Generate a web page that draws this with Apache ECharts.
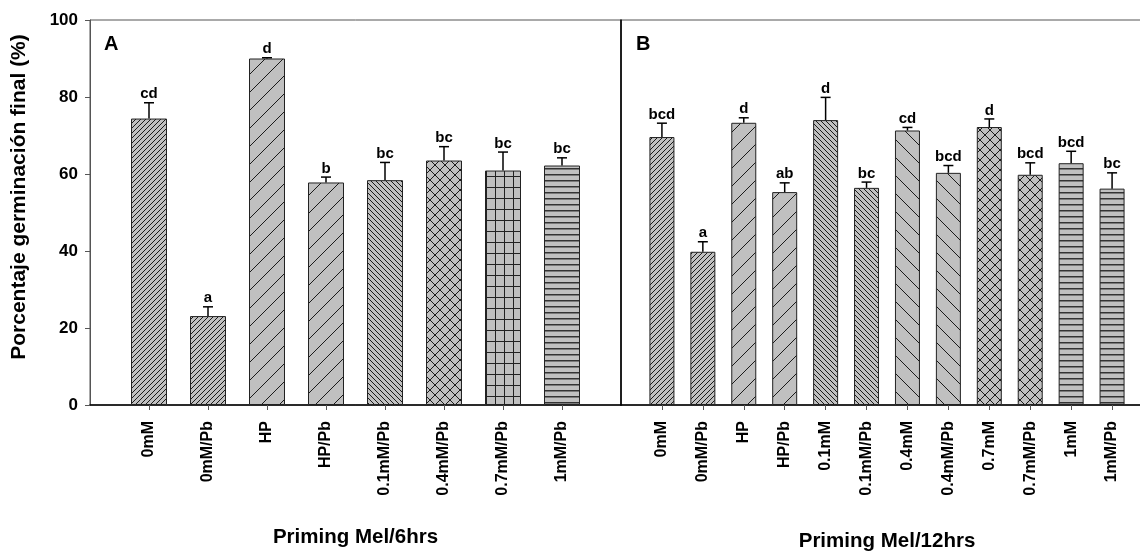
<!DOCTYPE html>
<html><head><meta charset="utf-8">
<script src="https://cdn.jsdelivr.net/npm/echarts@6/dist/echarts.min.js"></script>
<style>html,body{margin:0;padding:0;background:#fff}#c{width:1140px;height:552px}</style>
</head><body><div id="c"></div>
<script>
// ---- data ----
const categoriesA = ['0mM','0mM/Pb','HP','HP/Pb','0.1mM/Pb','0.4mM/Pb','0.7mM/Pb','1mM/Pb'];
const meansA = [74.4, 23.1, 90.0, 57.8, 58.4, 63.5, 60.9, 62.2];
const errorsA = [4.1, 2.4, 0.2, 1.4, 4.6, 3.6, 4.8, 2.0];
const lettersA = ['cd','a','d','b','bc','bc','bc','bc'];
const categoriesB = ['0mM','0mM/Pb','HP','HP/Pb','0.1mM','0.1mM/Pb','0.4mM','0.4mM/Pb','0.7mM','0.7mM/Pb','1mM','1mM/Pb'];
const meansB = [69.6, 39.8, 73.3, 55.3, 74.0, 56.4, 71.3, 60.3, 72.2, 59.8, 62.8, 56.2];
const errorsB = [3.6, 2.6, 1.3, 2.4, 5.9, 1.5, 0.8, 1.9, 2.1, 3.1, 3.1, 4.1];
const lettersB = ['bcd','a','d','ab','d','bc','cd','bcd','d','bcd','bcd','bc'];
const yTicks = [0, 20, 40, 60, 80, 100];
const panelTitles = ['A', 'B'];
const axisTitles = ['Priming Mel/6hrs', 'Priming Mel/12hrs'];
const yTitle = 'Porcentaje germinación final (%)';

// ---- styles ----
const patternsA = ['fwdDense','fwdDense','fwdSparse','fwdSparse','backDense','cross','grid','horiz'];
const patternsB = ['fwdDense','fwdDense','fwdSparse','fwdSparse','backDense','backDense','backSparse','backSparse','cross','cross','horiz','horiz'];
const FONT = '"Liberation Sans", Arial, sans-serif';

const patternCache = {};
function makePattern(kind) {
  if (patternCache[kind]) return patternCache[kind];
  const c = document.createElement('canvas');
  let w = 10, h = 10;
  if (kind === 'fwdDense' || kind === 'backDense') { w = h = 5; }
  else if (kind === 'fwdSparse' || kind === 'backSparse') { w = h = 18; }
  else if (kind === 'cross') { w = h = 10; }
  else if (kind === 'grid') { w = 9; h = 11; }
  else if (kind === 'horiz') { w = 8; h = 6; }
  c.width = w; c.height = h;
  const ctx = c.getContext('2d');
  ctx.fillStyle = '#c0c0c0';
  ctx.fillRect(0, 0, w, h);
  ctx.strokeStyle = '#1a1a1a';
  ctx.lineWidth = 1;
  const fwd = () => {
    ctx.beginPath();
    ctx.moveTo(-1, h + 1); ctx.lineTo(w + 1, -1);
    ctx.moveTo(-2, 2); ctx.lineTo(2, -2);
    ctx.moveTo(w - 2, h + 2); ctx.lineTo(w + 2, h - 2);
    ctx.stroke();
  };
  const back = () => {
    ctx.beginPath();
    ctx.moveTo(-1, -1); ctx.lineTo(w + 1, h + 1);
    ctx.moveTo(-2, h - 2); ctx.lineTo(2, h + 2);
    ctx.moveTo(w - 2, -2); ctx.lineTo(w + 2, 2);
    ctx.stroke();
  };
  if (kind.startsWith('fwd')) fwd();
  else if (kind.startsWith('back')) back();
  else if (kind === 'cross') { fwd(); back(); }
  else if (kind === 'grid') {
    ctx.fillStyle = '#222';
    ctx.fillRect(0, 0, 1, h);
    ctx.fillRect(0, 0, w, 1);
  } else if (kind === 'horiz') {
    ctx.fillStyle = '#333';
    ctx.fillRect(0, 0, w, 1.5);
  }
  patternCache[kind] = { image: c, repeat: 'repeat' };
  return patternCache[kind];
}

function barData(means, patterns) {
  return ['-'].concat(means.map((v, i) => ({ value: v, itemStyle: { color: makePattern(patterns[i]) } }))).concat(['-']);
}

function errRenderer(letters) {
  return function (params, api) {
    const x = api.value(0), m = api.value(1), e = api.value(2);
    const p0 = api.coord([x, m]);
    const p1 = api.coord([x, m + e]);
    return {
      type: 'group',
      children: [
        { type: 'line', shape: { x1: p0[0], y1: p0[1], x2: p1[0], y2: p1[1] }, style: { stroke: '#000', lineWidth: 1.5 } },
        { type: 'line', shape: { x1: p1[0] - 5, y1: p1[1], x2: p1[0] + 5, y2: p1[1] }, style: { stroke: '#000', lineWidth: 1.5 } },
        { type: 'text', x: p1[0], y: p1[1] - 1,
          style: { text: letters[params.dataIndex], fill: '#000', fontSize: 15, fontWeight: 'bold', fontFamily: FONT, align: 'center', verticalAlign: 'bottom' } }
      ]
    };
  };
}

function xAxisCfg(grid, cats, title, gap) {
  return {
    gridIndex: grid, type: 'category', data: [''].concat(cats).concat(['']), boundaryGap: false,
    axisLine: { lineStyle: { color: '#000', width: 1.5 } },
    axisTick: { length: 5, interval: (i, v) => v !== '', lineStyle: { color: '#555' } },
    axisLabel: { interval: 0, rotate: 90, margin: 16, fontSize: 16, fontWeight: 'bold', color: '#000', fontFamily: FONT },
    name: title, nameLocation: 'middle', nameGap: gap,
    nameTextStyle: { fontSize: 20.5, fontWeight: 'bold', color: '#000', fontFamily: FONT }
  };
}

const yMin = yTicks[0], yMax = yTicks[yTicks.length - 1], yStep = yTicks[1] - yTicks[0];

const chart = echarts.init(document.getElementById('c'), null, { renderer: 'canvas' });
chart.setOption({
  animation: false,
  backgroundColor: '#fff',
  textStyle: { fontFamily: FONT },
  grid: [
    { left: 90, top: 20, width: 531, height: 385, show: true, borderColor: '#555', borderWidth: 1, containLabel: false, outerBoundsMode: 'none' },
    { left: 621, top: 20, width: 532, height: 385, show: true, borderColor: '#555', borderWidth: 1, containLabel: false, outerBoundsMode: 'none' }
  ],
  xAxis: [
    xAxisCfg(0, categoriesA, axisTitles[0], 122),
    xAxisCfg(1, categoriesB, axisTitles[1], 126)
  ],
  yAxis: [
    { gridIndex: 0, type: 'value', min: yMin, max: yMax, interval: yStep,
      axisLine: { show: true, lineStyle: { color: '#555', width: 1 } },
      axisTick: { show: true, length: 5, lineStyle: { color: '#555' } },
      axisLabel: { margin: 12, fontSize: 17, fontWeight: 'bold', color: '#000', fontFamily: FONT },
      splitLine: { show: false } },
    { gridIndex: 1, type: 'value', min: yMin, max: yMax, interval: yStep,
      axisLine: { show: true, lineStyle: { color: '#000', width: 1.5 } },
      axisTick: { show: false }, axisLabel: { show: false }, splitLine: { show: false } }
  ],
  series: [
    { type: 'bar', xAxisIndex: 0, yAxisIndex: 0, barWidth: 36, data: barData(meansA, patternsA),
      itemStyle: { borderColor: '#222', borderWidth: 1 } },
    { type: 'bar', xAxisIndex: 1, yAxisIndex: 1, barWidth: 25, data: barData(meansB, patternsB),
      itemStyle: { borderColor: '#222', borderWidth: 1 } },
    { type: 'custom', xAxisIndex: 0, yAxisIndex: 0, z: 5,
      data: meansA.map((v, i) => [i + 1, v, errorsA[i]]), renderItem: errRenderer(lettersA) },
    { type: 'custom', xAxisIndex: 1, yAxisIndex: 1, z: 5,
      data: meansB.map((v, i) => [i + 1, v, errorsB[i]]), renderItem: errRenderer(lettersB) }
  ],
  graphic: [
    { type: 'text', x: 104, y: 34, style: { text: panelTitles[0], fontSize: 20, fontWeight: 'bold', fontFamily: FONT, fill: '#000' } },
    { type: 'text', x: 636, y: 34, style: { text: panelTitles[1], fontSize: 20, fontWeight: 'bold', fontFamily: FONT, fill: '#000' } },
    { type: 'text', x: 19, y: 197, rotation: Math.PI / 2,
      style: { text: yTitle, fontSize: 21, fontWeight: 'bold', fontFamily: FONT, fill: '#000', align: 'center', verticalAlign: 'middle' } }
  ]
});
</script>
</body></html>
